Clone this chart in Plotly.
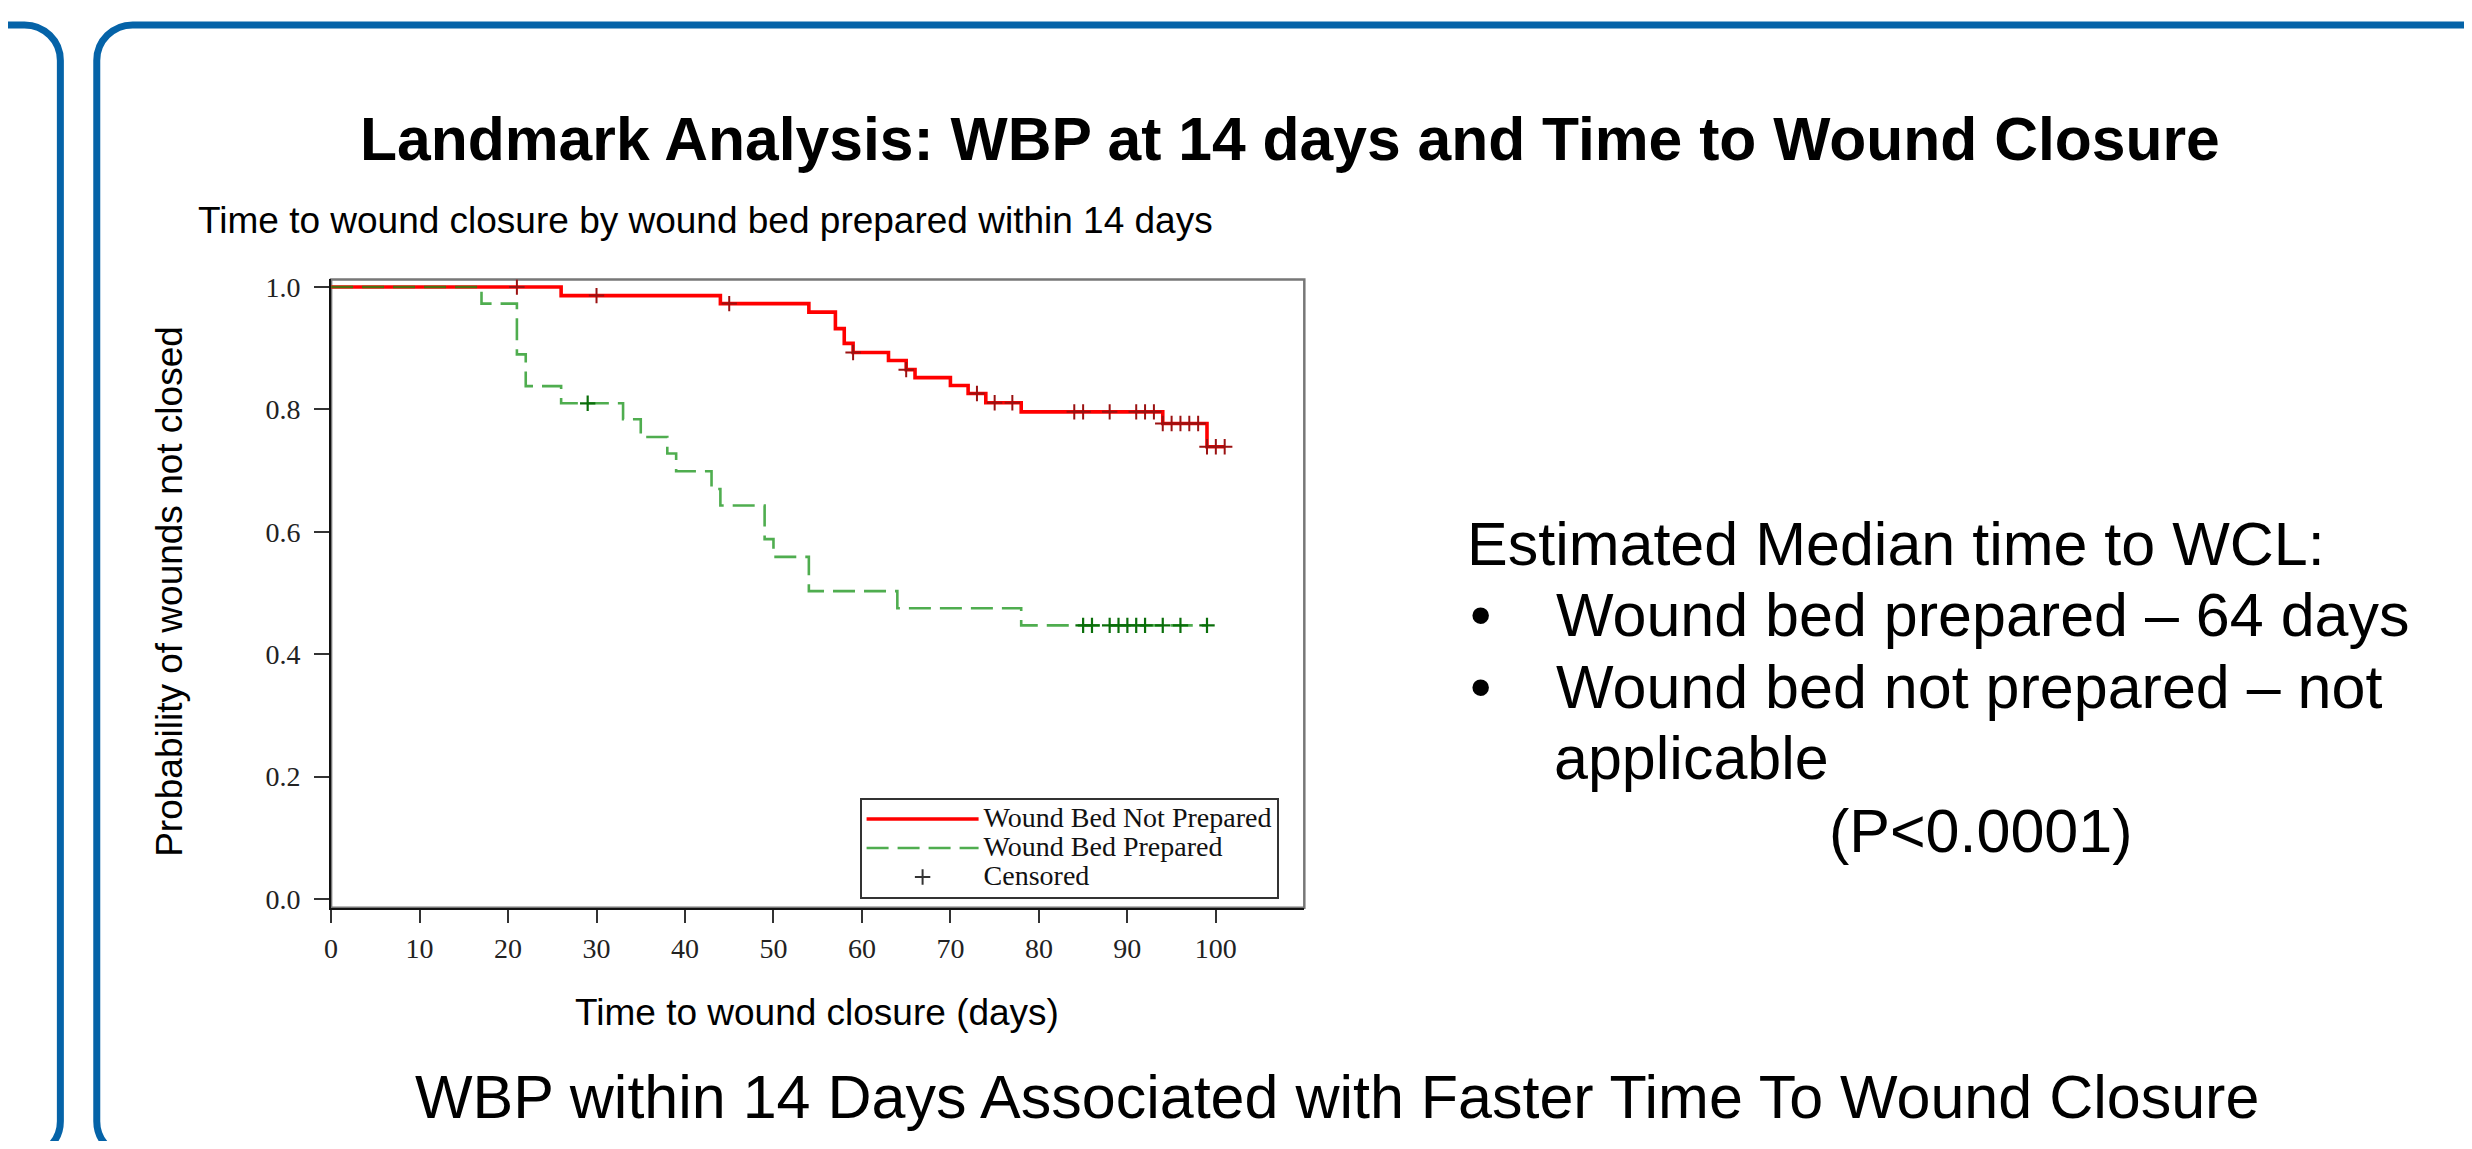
import plotly.graph_objects as go

# The page body keeps the browser's default 8 px margin, so the figure is
# sized to fit inside the 2472x1149 window.
PAGE_W, PAGE_H = 2472, 1149
MARGIN = 8
FW, FH = PAGE_W - 2 * MARGIN, PAGE_H - 2 * MARGIN

# ---------------- data ----------------
red_days = [0, 26, 44, 54, 57, 58, 59, 63, 65, 66, 70, 72, 74, 78, 94, 99, 101]
red_surv = [1.0, 0.986, 0.973, 0.959, 0.932, 0.908, 0.893, 0.880, 0.865, 0.852,
            0.839, 0.826, 0.811, 0.796, 0.777, 0.739, 0.739]

green_days = [0, 17, 21, 22, 26, 33, 35, 38, 39, 43, 44, 49, 50, 54, 64, 78, 99]
green_surv = [1.0, 0.973, 0.890, 0.838, 0.810, 0.784, 0.755, 0.728, 0.699, 0.670,
              0.643, 0.588, 0.559, 0.503, 0.475, 0.447, 0.447]

red_cens_days = [21, 30, 45, 59, 65, 73, 75, 77, 84, 85, 88, 91, 92, 93,
                 94, 95, 96, 97, 98, 99, 100, 101]
red_cens_surv = [1.0, 0.986, 0.973, 0.893, 0.865, 0.826, 0.811, 0.811, 0.796, 0.796,
                 0.796, 0.796, 0.796, 0.796, 0.777, 0.777, 0.777, 0.777, 0.777,
                 0.739, 0.739, 0.739]

green_cens_days = [29, 85, 86, 88, 89, 90, 91, 92, 94, 96, 99]
green_cens_surv = [0.810, 0.447, 0.447, 0.447, 0.447, 0.447, 0.447, 0.447, 0.447,
                   0.447, 0.447]

x_ticks = [0, 10, 20, 30, 40, 50, 60, 70, 80, 90, 100]
y_ticks = [0.0, 0.2, 0.4, 0.6, 0.8, 1.0]
y_ticktext = ["0.0", "0.2", "0.4", "0.6", "0.8", "1.0"]

series_names = ["Wound Bed Not Prepared", "Wound Bed Prepared", "Censored"]

# ---------------- helpers (page pixels -> paper fractions) ----------------
def px(x):
    return (x - MARGIN) / FW

def py(y):
    return 1 - (y - MARGIN) / FH

SERIF = "Liberation Serif"
SANS = "Liberation Sans"
BLUE = "#0563A8"

def legend_label(s):
    return "<span style='font-size:28px'>%s</span>" % s

fig = go.Figure()

fig.add_trace(go.Scatter(
    x=red_days, y=red_surv, mode="lines", line_shape="hv",
    line=dict(color="#FF0000", width=3.6), name=legend_label(series_names[0]),
))
fig.add_trace(go.Scatter(
    x=green_days, y=green_surv, mode="lines", line_shape="hv",
    line=dict(color="rgba(20,145,20,0.75)", width=2.6, dash="22px,9px"),
    name=legend_label(series_names[1]),
))
fig.add_trace(go.Scatter(
    x=red_cens_days, y=red_cens_surv, mode="markers", showlegend=False,
    marker=dict(symbol="cross-thin", size=11, line=dict(color="#9b1111", width=2)),
    name="Censored (not prepared)",
))
fig.add_trace(go.Scatter(
    x=green_cens_days, y=green_cens_surv, mode="markers", showlegend=False,
    marker=dict(symbol="cross-thin", size=11, line=dict(color="#0a6e0a", width=2.2)),
    name="Censored (prepared)",
))
fig.add_trace(go.Scatter(
    x=[None], y=[None], mode="markers", name=legend_label(series_names[2]),
    marker=dict(symbol="cross-thin", size=11, line=dict(color="#333333", width=2)),
))

x0p, x1p = px(325), px(1301)
y0p, y1p = py(911.7), py(275)

fig.update_layout(
    width=FW, height=FH,
    margin=dict(l=0, r=0, t=0, b=0),
    paper_bgcolor="white", plot_bgcolor="white",
    xaxis=dict(
        domain=[x0p, x1p], range=[0, 110],
        tickmode="array", tickvals=x_ticks,
        ticks="outside", ticklen=13, tickwidth=2, tickcolor="#333",
        showline=True, linecolor="#111", linewidth=2,
        showgrid=False, zeroline=False,
        tickfont=dict(family=SERIF, size=28, color="#222"),
        ticklabelstandoff=2,
    ),
    yaxis=dict(
        domain=[y0p, y1p], range=[-0.0145, 1.0124],
        tickmode="array", tickvals=y_ticks, ticktext=y_ticktext,
        ticks="outside", ticklen=15, tickwidth=2, tickcolor="#333",
        showline=True, linecolor="#111", linewidth=2,
        showgrid=False, zeroline=False,
        tickfont=dict(family=SERIF, size=28, color="#222"),
        ticklabelstandoff=8,
    ),
    legend=dict(
        x=px(855), y=py(800), xanchor="left", yanchor="top",
        bordercolor="#333", borderwidth=2, bgcolor="white",
        font=dict(family=SERIF, size=20, color="#111"),
        itemwidth=112, tracegroupgap=0,
    ),
    showlegend=True,
)

# plot frame (top/right in grey)
shapes = [dict(type="rect", xref="paper", yref="paper", x0=x0p, x1=x1p, y0=y0p, y1=y1p,
               line=dict(color="#777", width=2.5), layer="below")]

# decorative slide panels
K = 0.5523

def corner(x0, y0, x1, y1, first_horizontal=True):
    if first_horizontal:
        c1 = (x0 + K * (x1 - x0), y0)
        c2 = (x1, y1 - K * (y1 - y0))
    else:
        c1 = (x0, y0 + K * (y1 - y0))
        c2 = (x1 - K * (x1 - x0), y1)
    return "C %f,%f %f,%f %f,%f " % (px(c1[0]), py(c1[1]), px(c2[0]), py(c2[1]), px(x1), py(y1))

r = 36
# left panel: top edge and right side
p = "M %f,%f L %f,%f " % (px(-20), py(17), px(53.5 - r), py(17))
p += corner(53.5 - r, 17, 53.5, 17 + r, True)
p += "L %f,%f " % (px(53.5), py(1128))
p += corner(53.5, 1128, 53.5 - r, 1128 + r, False)
shapes.append(dict(type="path", xref="paper", yref="paper", path=p,
                   line=dict(color=BLUE, width=7)))
# right panel: left side and top edge
p = "M %f,%f L %f,%f " % (px(2500), py(17), px(90 + r), py(17))
p += corner(90 + r, 17, 90, 17 + r, True)
p += "L %f,%f " % (px(90), py(1128))
p += corner(90, 1128, 90 + r, 1128 + r, False)
shapes.append(dict(type="path", xref="paper", yref="paper", path=p,
                   line=dict(color=BLUE, width=7)))
fig.update_layout(shapes=shapes)

ann = []
def text(t, x, y, size, family=SANS, xanchor="left", angle=0, color="#000"):
    ann.append(dict(text=t, x=px(x), y=py(y), xref="paper", yref="paper",
                    xanchor=xanchor, yanchor="middle", showarrow=False,
                    textangle=angle, font=dict(family=family, size=size, color=color)))

text("<b>Landmark Analysis: WBP at 14 days and Time to Wound Closure</b>", 1287, 133, 60.6, xanchor="center")
text("Time to wound closure by wound bed prepared within 14 days", 190, 215, 37)
text("Probability of wounds not closed", 163, 591, 37, xanchor="center", angle=-90)
text("Time to wound closure (days)", 812.5, 1018, 37, xanchor="center")

text("Estimated Median time to WCL:", 1462, 543.5, 61)
text("•", 1465, 615.5, 61)
text("Wound bed prepared – 64 days", 1551, 615.5, 61)
text("•", 1465, 688.5, 61)
text("Wound bed not prepared – not", 1551, 688.5, 61)
text("applicable", 1549, 759.5, 61)
text("(P<0.0001)", 1825, 833.5, 61)

text("WBP within 14 Days Associated with Faster Time To Wound Closure", 1333.5, 1103, 61, xanchor="center")

fig.update_layout(annotations=ann)

fig.write_html("out.html")
